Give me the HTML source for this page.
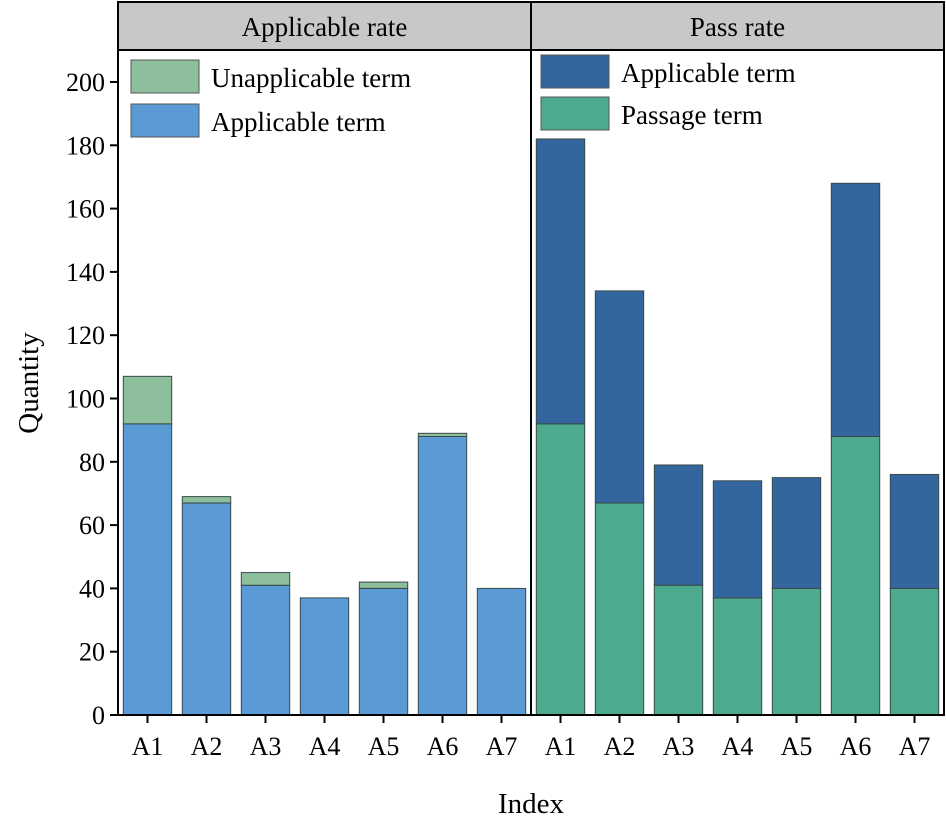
<!DOCTYPE html>
<html><head><meta charset="utf-8"><style>body{margin:0;background:#fff}svg{display:block;font-family:"Liberation Serif",serif}</style></head>
<body>
<svg id="c" width="946" height="825"></svg>
<script>
const categories=["A1","A2","A3","A4","A5","A6","A7"];
const applicableLeft=[92,67,41,37,40,88,40];
const unapplicableLeft=[15,2,4,0,2,1,0];
const passageRight=[92,67,41,37,40,88,40];
const applicableRight=[90,67,38,37,35,80,36];
const yTicks=[0,20,40,60,80,100,120,140,160,180,200];
const svg=document.getElementById('c');const NS='http://www.w3.org/2000/svg';
function el(t,a,txt){const e=document.createElementNS(NS,t);for(const k in a)e.setAttribute(k,a[k]);if(txt!==undefined)e.textContent=txt;svg.appendChild(e);return e;}
const L=118,M=531,R=944,T=50,B=715;
const y=v=>B-v*(B-82)/200;
const bw=(M-L)/7;
const xc=(p,i)=>(p?M:L)+bw*(i+0.5);
let h=el('rect',{x:L,y:2,width:R-L,height:T-2,fill:'#c8c8c8',stroke:'#000','stroke-width':2});

let t1=el('text',{x:(L+M)/2,y:36,'font-size':27,'text-anchor':'middle'},'Applicable rate');

let t2=el('text',{x:(M+R)/2,y:36,'font-size':27,'text-anchor':'middle'},'Pass rate');

function bar(x,v0,v1,fill,name){if(v1<=0)return;const r=el('rect',{x:x-bw*0.41,y:y(v0+v1),width:bw*0.82,height:y(v0)-y(v0+v1),fill:fill,stroke:'#3a4a4a','stroke-width':1});
}
categories.forEach((c,i)=>{
 bar(xc(0,i),0,applicableLeft[i],'#5b9bd5','bar-applicable-'+c);
 bar(xc(0,i),applicableLeft[i],unapplicableLeft[i],'#8dbf9c','bar-unapplicable-'+c);
 bar(xc(1,i),0,passageRight[i],'#4daa8e','bar-passage-'+c);
 bar(xc(1,i),passageRight[i],applicableRight[i],'#33669e','bar-pass-applicable-'+c);
 [0,1].forEach(p=>{const x=xc(p,i);
  let tk=el('line',{x1:x,x2:x,y1:B,y2:B+8,stroke:'#000','stroke-width':2});
  let tl=el('text',{x:x,y:B+40,'font-size':26,'text-anchor':'middle'},c);});
});
yTicks.forEach(v=>{let tk=el('line',{x1:L-8,x2:L,y1:y(v),y2:y(v),stroke:'#000','stroke-width':2});
 let tl=el('text',{x:L-13,y:y(v)+9,'font-size':26,'text-anchor':'end'},v);});
let fr=el('rect',{x:L,y:T,width:R-L,height:B-T,fill:'none',stroke:'#000','stroke-width':2});
let dv=el('line',{x1:M,x2:M,y1:2,y2:B,stroke:'#000','stroke-width':2});
function leg(x,yy,fill,label,name){let s=el('rect',{x:x,y:yy,width:68,height:33,fill:fill,stroke:'#555','stroke-width':1});
 let t=el('text',{x:x+80,y:yy+27,'font-size':27},label);}
leg(131,60,'#8dbf9c','Unapplicable term','legend-unapplicable');
leg(131,104,'#5b9bd5','Applicable term','legend-applicable');
leg(541,55,'#33669e','Applicable term','legend-pass-applicable');
leg(541,97,'#4daa8e','Passage term','legend-passage');
let yt=el('text',{x:0,y:0,'font-size':29,'text-anchor':'middle',transform:'translate(38,383) rotate(-90)'},'Quantity');
let xt=el('text',{x:531,y:813,'font-size':29,'text-anchor':'middle'},'Index');
</script>
</body></html>
